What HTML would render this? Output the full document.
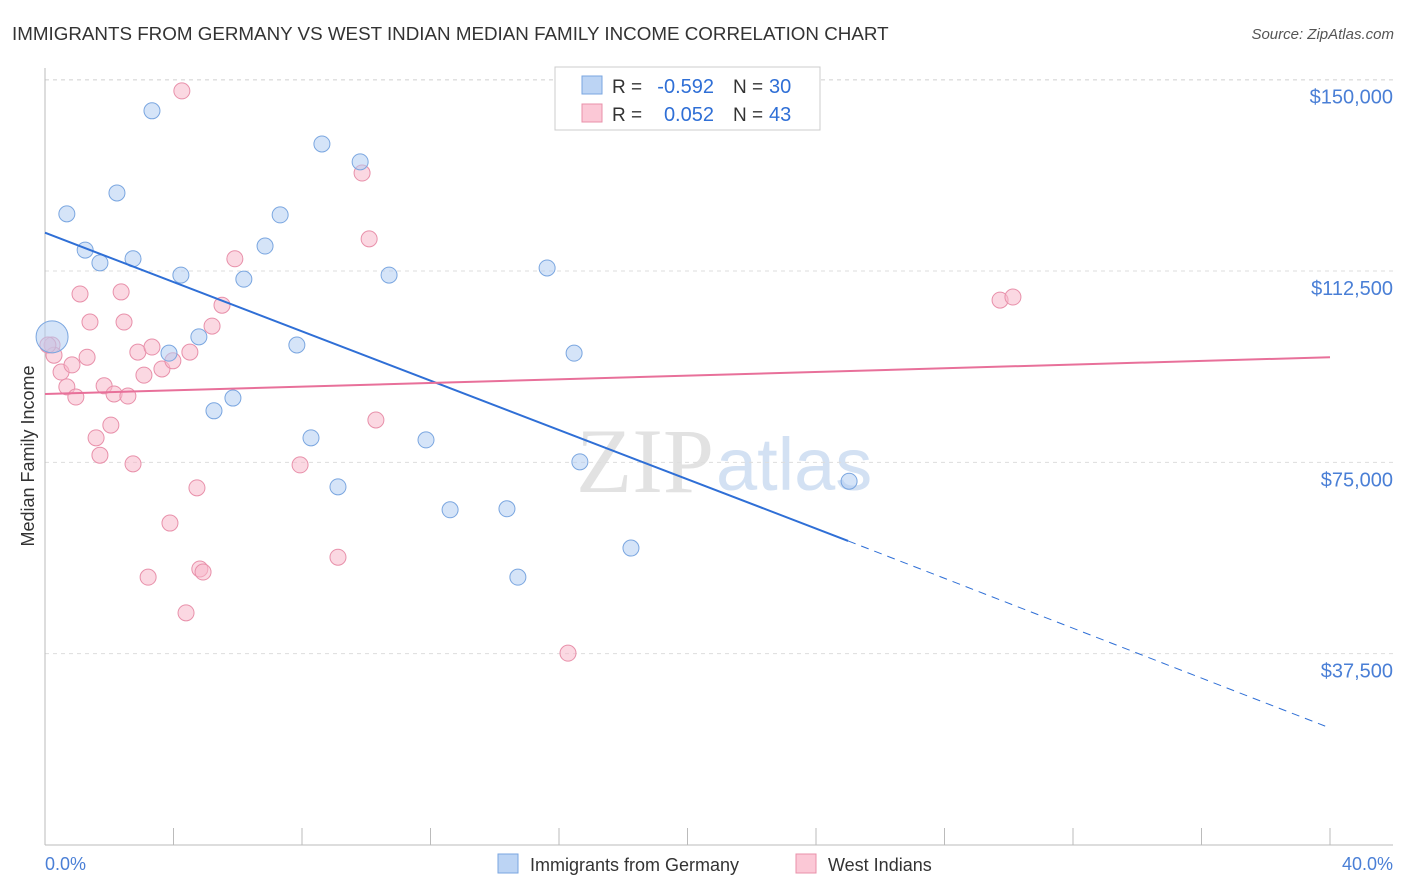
<!DOCTYPE html>
<html><head><meta charset="utf-8"><style>
body{margin:0;background:#fff;font-family:"Liberation Sans",sans-serif}
svg{display:block}
</style></head><body>
<svg width="1406" height="892" xmlns="http://www.w3.org/2000/svg">
<text x="12" y="40" font-size="18.8" fill="#333">IMMIGRANTS FROM GERMANY VS WEST INDIAN MEDIAN FAMILY INCOME CORRELATION CHART</text>
<text x="1394" y="39" font-size="15" fill="#555" font-style="italic" text-anchor="end">Source: ZipAtlas.com</text>
<text x="714" y="492" font-size="92" fill="#e2e2e2" font-family="Liberation Serif" text-anchor="end">ZIP</text>
<text x="716" y="490" font-size="74" fill="#d3e1f3">atlas</text>
<g id="grid"></g>
<g id="axes"></g>
<g id="marks"></g>
<text x="34" y="456" font-size="18" fill="#333" text-anchor="middle" transform="rotate(-90 34 456)">Median Family Income</text>
<text x="45" y="870" font-size="18" fill="#4a7fd6">0.0%</text>
<text x="1393" y="870" font-size="18" fill="#4a7fd6" text-anchor="end">40.0%</text>
<g>
<rect x="555" y="67" width="265" height="63" fill="#fff" stroke="#ccc"/>
<rect x="582" y="76" width="20" height="18" fill="#bcd4f4" stroke="#7aa6e0"/>
<rect x="582" y="104" width="20" height="18" fill="#fbc8d6" stroke="#e890aa"/>
<text x="612" y="93" font-size="19" fill="#333">R =</text>
<text x="714" y="93" font-size="20" fill="#2f6fd6" text-anchor="end">-0.592</text>
<text x="733" y="93" font-size="19" fill="#333">N =</text>
<text x="769" y="93" font-size="20" fill="#2f6fd6">30</text>
<text x="612" y="121" font-size="19" fill="#333">R =</text>
<text x="714" y="121" font-size="20" fill="#2f6fd6" text-anchor="end">0.052</text>
<text x="733" y="121" font-size="19" fill="#333">N =</text>
<text x="769" y="121" font-size="20" fill="#2f6fd6">43</text>
</g>
<g>
<rect x="498" y="854" width="20" height="19" fill="#bcd4f4" stroke="#7aa6e0"/>
<text x="530" y="871" font-size="18" fill="#333">Immigrants from Germany</text>
<rect x="796" y="854" width="20" height="19" fill="#fbc8d6" stroke="#e890aa"/>
<text x="828" y="871" font-size="18" fill="#333">West Indians</text>
</g>
</svg>
<script>
const yTicks=[37.5,75,112.5,150];
const yTickLabels=["$37,500","$75,000","$112,500","$150,000"];
const xTicks=[0,4,8,12,16,20,24,28,32,36,40];
const blueX=[0.22,0.68,2.24,3.33,1.25,1.71,2.74,4.23,4.79,3.86,5.26,5.85,6.19,6.85,7.32,7.84,8.28,8.62,9.12,9.81,10.71,11.86,12.61,14.38,14.72,15.63,16.47,16.65,18.24,25.03];
const blueY=[99.6,123.7,127.8,143.9,116.6,114.1,114.9,111.7,99.6,96.4,85.1,87.6,110.9,117.4,123.5,98.0,79.8,137.4,70.2,133.9,111.7,79.4,65.7,65.9,52.5,113.1,96.4,75.1,58.2,71.3];
const pinkX=[4.26,9.87,10.09,5.91,5.51,5.20,1.09,2.37,1.40,2.46,0.22,0.28,0.50,0.84,1.31,0.68,0.96,1.84,2.15,2.58,2.89,3.33,3.08,3.64,3.98,4.51,1.59,2.05,1.71,2.74,10.30,7.94,4.73,3.89,3.21,4.82,4.92,4.39,9.12,16.28,29.73,30.13,0.09];
const pinkY=[147.8,131.7,118.8,114.9,105.8,101.7,108.0,108.4,102.5,102.5,98.0,96.0,92.7,94.1,95.6,89.8,87.8,90.0,88.4,88.0,96.6,97.6,92.1,93.3,94.9,96.6,79.8,82.3,76.4,74.7,83.3,74.5,70.0,63.1,52.5,54.1,53.5,45.5,56.4,37.6,106.8,107.4,98.0];
const blueTrend=[[0,120.0],[25.0,59.6],[39.85,23.3]];
const pinkTrend=[[0,88.4],[40,95.6]];
const NS="http://www.w3.org/2000/svg";
const sx=v=>45+v*32.125, sy=v=>845-v*191.33/37.5;
function mk(tag,attrs,parent){const e=document.createElementNS(NS,tag);for(const k in attrs)e.setAttribute(k,attrs[k]);document.getElementById(parent).appendChild(e);return e;}
yTicks.forEach((t,i)=>{
 const l=mk('line',{x1:45,x2:1393,y1:sy(t),y2:sy(t),stroke:'#ddd','stroke-dasharray':'4,4'},'grid');
 
 
 const tx=mk('text',{x:1393,y:sy(t)+24,'font-size':20,fill:'#4a7fd6','text-anchor':'end'},'grid');
 tx.textContent=yTickLabels[i];
 
 
});
const tl=mk('line',{x1:45,x2:1393,y1:80,y2:80,stroke:'#ddd','stroke-dasharray':'4,4'},'grid');


const ya=mk('line',{x1:45,x2:45,y1:68,y2:845,stroke:'#bbb'},'axes');


const xa=mk('line',{x1:45,x2:1393,y1:845,y2:845,stroke:'#bbb'},'axes');


xTicks.forEach(t=>{
 const k=mk('line',{x1:sx(t),x2:sx(t),y1:828,y2:845,stroke:'#bbb'},'axes');
 
 
});
function dots(X,Y,fill,stroke,name){
 X.forEach((x,i)=>{
  const big=(name==='germany-point'&&i===0);
  const c=mk('circle',{cx:sx(x),cy:sy(Y[i]),r:big?16:8,fill:fill,'fill-opacity':0.55,stroke:stroke,'stroke-width':1},'marks');
  
  
 });
}
dots(pinkX,pinkY,'#f7b8ca','#e890aa','west-indian-point');
dots(blueX,blueY,'#b2cdf2','#7aa6e0','germany-point');
const b1=mk('line',{x1:sx(blueTrend[0][0]),y1:sy(blueTrend[0][1]),x2:sx(blueTrend[1][0]),y2:sy(blueTrend[1][1]),stroke:'#2f6fd6','stroke-width':2},'marks');


const b2=mk('line',{x1:sx(blueTrend[1][0]),y1:sy(blueTrend[1][1]),x2:sx(blueTrend[2][0]),y2:sy(blueTrend[2][1]),stroke:'#2f6fd6','stroke-width':1,'stroke-dasharray':'8,6'},'marks');


const p1=mk('line',{x1:sx(pinkTrend[0][0]),y1:sy(pinkTrend[0][1]),x2:sx(pinkTrend[1][0]),y2:sy(pinkTrend[1][1]),stroke:'#e8709a','stroke-width':2},'marks');


</script>
</body></html>
